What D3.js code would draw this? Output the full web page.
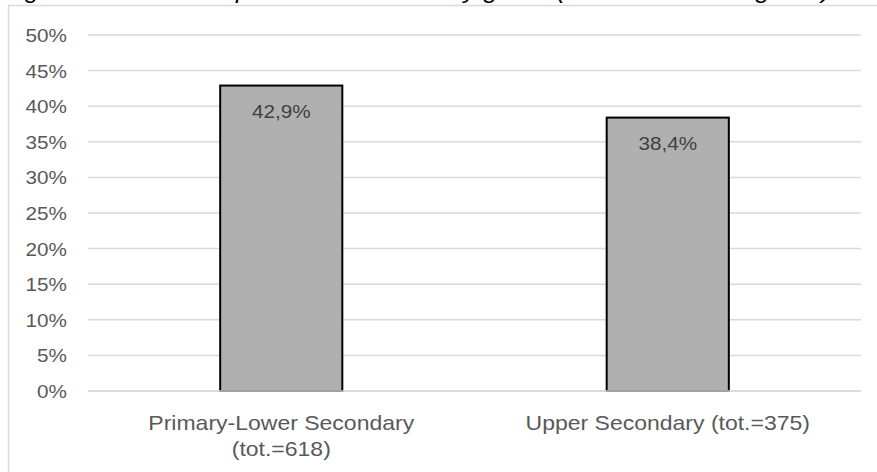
<!DOCTYPE html>
<html>
<head>
<meta charset="utf-8">
<script src="https://cdn.jsdelivr.net/npm/d3@7"></script>
<style>
  html, body { margin: 0; padding: 0; background: #fff; overflow: hidden; }
  svg { display: block; font-family: "Liberation Sans", Arial, sans-serif; }
</style>
</head>
<body>
<svg id="chart" width="877" height="472"></svg>
<script>
// Share of part-time students by school grade
const categories = ["Primary-Lower Secondary", "Upper Secondary (tot.=375)"];
const categoryLines = [["Primary-Lower Secondary", "(tot.=618)"], ["Upper Secondary (tot.=375)"]];
const values = [42.9, 38.4];
const valueLabels = ["42,9%", "38,4%"];
const tickValues = [0, 5, 10, 15, 20, 25, 30, 35, 40, 45, 50];
const titleLead = "Fig. 3";
const titleText = "Ratio of part-time students by grade (out of total each grade)";

const svg = d3.select("#chart");
const W = 877, H = 472;
const plot = { left: 88, right: 861, top: 35, bottom: 391 };
const textColor = "#595959";
const sx = 1.15; // glyph width stretch

// Title sitting mostly above the visible frame
svg.append("text")
  .attr("transform", `translate(4,-2) scale(${sx},1)`)
  .attr("font-size", 22).attr("font-style", "italic").attr("fill", "#000")
  .text(titleLead);
svg.append("text")
  .attr("x", 140).attr("y", -2)
  .attr("font-size", 22).attr("font-style", "italic").attr("fill", "#000")
  .attr("textLength", 690).attr("lengthAdjust", "spacingAndGlyphs")
  .text(titleText);

// Chart frame
svg.append("path")
  .attr("d", `M8.5,${H} V5.5 H${W}`)
  .attr("fill", "none").attr("stroke", "#d9d9d9").attr("stroke-width", 1.5);

const x = d3.scaleBand().domain(categories).range([plot.left, plot.right]).paddingInner(0.684).paddingOuter(0.342);
const y = d3.scaleLinear().domain([0, 50]).range([plot.bottom, plot.top]);

// Horizontal gridlines
svg.append("g").selectAll("line").data(tickValues).join("line")
  .attr("x1", plot.left).attr("x2", plot.right)
  .attr("y1", d => y(d)).attr("y2", d => y(d))
  .attr("stroke", "#d9d9d9").attr("stroke-width", 1.5);

// Y tick labels
svg.append("g").selectAll("text").data(tickValues).join("text")
  .attr("transform", d => `translate(67,${y(d) + 7}) scale(${sx},1)`)
  .attr("text-anchor", "end").attr("font-size", 18).attr("fill", textColor)
  .text(d => d + "%");

// Bars
svg.append("g").selectAll("rect").data(values).join("rect")
  .attr("x", (d, i) => x(categories[i]))
  .attr("y", d => y(d))
  .attr("width", x.bandwidth())
  .attr("height", d => y(0) - y(d))
  .attr("fill", "#b0b0b0").attr("stroke", "#000").attr("stroke-width", 2);

// Baseline drawn over bar bottoms
svg.append("line")
  .attr("x1", plot.left).attr("x2", plot.right)
  .attr("y1", y(0)).attr("y2", y(0))
  .attr("stroke", "#d9d9d9").attr("stroke-width", 1.5);

// Value labels inside the bar tops
svg.append("g").selectAll("text").data(values).join("text")
  .attr("transform", (d, i) => `translate(${x(categories[i]) + x.bandwidth() / 2},${y(d) + 32}) scale(${sx},1)`)
  .attr("text-anchor", "middle").attr("font-size", 18).attr("fill", "#404040")
  .text((d, i) => valueLabels[i]);

// Category labels
const cat = svg.append("g").selectAll("g").data(categories).join("g");
cat.each(function (c, i) {
  d3.select(this).selectAll("text").data(categoryLines[i]).join("text")
    .attr("transform", (t, j) => `translate(${x(c) + x.bandwidth() / 2},${430 + j * 26}) scale(${sx},1)`)
    .attr("text-anchor", "middle").attr("font-size", 20).attr("fill", textColor)
    .text(t => t);
});
</script>
</body>
</html>
